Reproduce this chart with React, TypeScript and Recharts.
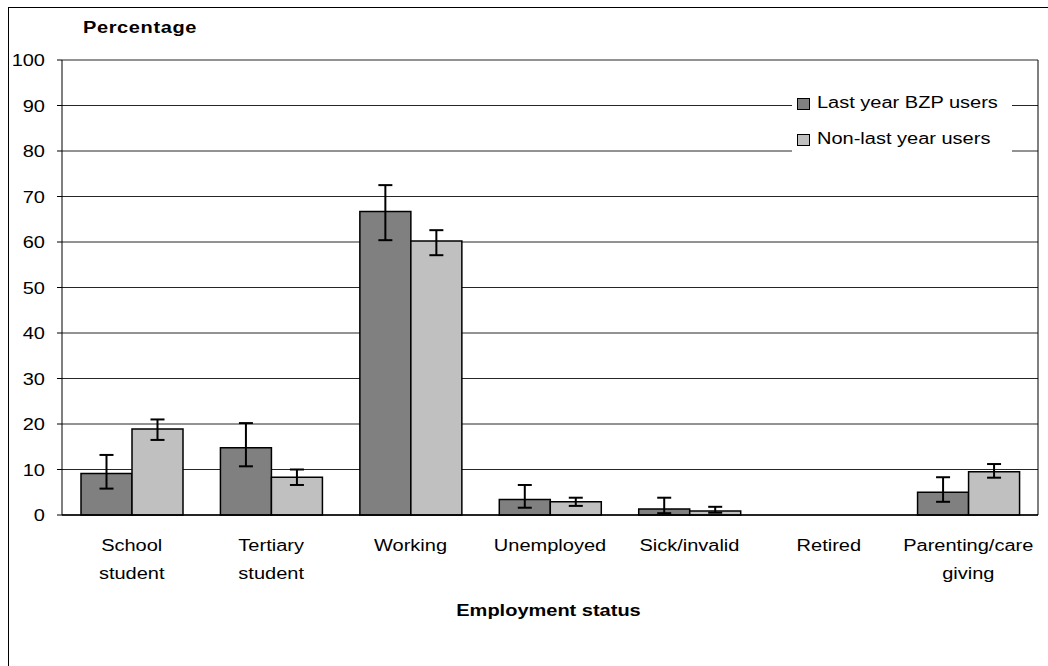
import { Bar, BarChart, CartesianGrid, ErrorBar, Legend, XAxis, YAxis } from 'recharts';

const categories = [
  'School student',
  'Tertiary student',
  'Working',
  'Unemployed',
  'Sick/invalid',
  'Retired',
  'Parenting/care giving',
];
const tickLines = [
  ['School', 'student'],
  ['Tertiary', 'student'],
  ['Working'],
  ['Unemployed'],
  ['Sick/invalid'],
  ['Retired'],
  ['Parenting/care', 'giving'],
];

// last year BZP users
const bzp = [9.1, 14.8, 66.7, 3.4, 1.3, 0, 5.0];
const bzpLow = [5.8, 10.7, 60.4, 1.6, 0.4, 0, 2.9];
const bzpHigh = [13.2, 20.2, 72.5, 6.6, 3.8, 0, 8.3];

// non-last year users
const non = [18.9, 8.3, 60.2, 2.9, 0.9, 0, 9.5];
const nonLow = [16.5, 6.6, 57.1, 2.0, 0.5, 0, 8.2];
const nonHigh = [21.0, 10.0, 62.6, 3.8, 1.8, 0, 11.2];

const yTicks = [0, 10, 20, 30, 40, 50, 60, 70, 80, 90, 100];

const seriesNames = ['Last year BZP users', 'Non-last year users'];
const DARK = '#808080';
const LIGHT = '#c0c0c0';
const FONT = '"Liberation Sans", Arial, sans-serif';
const SX = 1.25; // text in the original is stretched sideways

const data = categories.map((name, i) => ({
  name,
  bzp: bzp[i],
  bzpErr: [bzp[i] - bzpLow[i], bzpHigh[i] - bzp[i]],
  non: non[i],
  nonErr: [non[i] - nonLow[i], nonHigh[i] - non[i]],
}));

const XTick = (props: any) => {
  const { x, y, payload } = props;
  const idx = payload.index ?? categories.indexOf(payload.value);
  const lines = tickLines[idx] || [payload.value];
  return (
    <g>
      {lines.map((l, i) => (
        <text
          key={l}
          transform={`translate(${x},${y + 36 + i * 28}) scale(${SX},1)`}
          textAnchor="middle"
          fontSize={16}
          fontFamily={FONT}
          fill="#000"
        >
          {l}
        </text>
      ))}
    </g>
  );
};

const YTick = (props: any) => {
  const { x, y, payload } = props;
  return (
    <text
      transform={`translate(${x},${y + 6}) scale(${SX},1)`}
      textAnchor="end"
      fontSize={16}
      fontFamily={FONT}
      fill="#000"
    >
      {payload.value}
    </text>
  );
};

const LegendBox = () => (
  <div style={{ background: '#fff', width: 220, height: 72, fontFamily: FONT }}>
    {seriesNames.map((n, i) => (
      <div key={n} style={{ position: 'relative', height: 36 }}>
        <div
          style={{
            position: 'absolute',
            left: 5,
            top: 12,
            width: 11,
            height: 10,
            background: i === 0 ? DARK : LIGHT,
            border: '1px solid #000',
          }}
        />
        <span
          style={{
            position: 'absolute',
            left: 25,
            top: 8,
            fontSize: 16,
            lineHeight: '18px',
            whiteSpace: 'nowrap',
            transform: `scaleX(${SX})`,
            transformOrigin: 'left center',
            color: '#000',
          }}
        >
          {n}
        </span>
      </div>
    ))}
  </div>
);

export default function App() {
  return (
    <div
      style={{
        position: 'fixed',
        left: 8,
        top: 7,
        width: 1039,
        height: 658,
        borderTop: '1px solid #000',
        borderLeft: '1px solid #000',
        background: '#fff',
      }}
    >
      <BarChart
        width={1039}
        height={658}
        data={data}
        margin={{ top: 52, right: 0, bottom: 0, left: 0 }}
        barGap={0}
      >
        <CartesianGrid vertical={false} stroke="#000" strokeOpacity={0.85} />
        <XAxis
          dataKey="name"
          height={151}
          tickLine={false}
          tickSize={0}
          tickMargin={0}
          axisLine={{ stroke: '#000', strokeWidth: 1.5 }}
          tick={<XTick />}
          interval={0}
        />
        <YAxis
          width={53}
          domain={[0, 100]}
          ticks={yTicks}
          interval={0}
          tickSize={5}
          tickMargin={12}
          tickLine={{ stroke: '#000' }}
          axisLine={{ stroke: '#000' }}
          tick={<YTick />}
        />
        <YAxis
          yAxisId="r"
          orientation="right"
          width={10}
          domain={[0, 100]}
          tick={false}
          tickLine={false}
          axisLine={{ stroke: '#000' }}
        />
        <Legend
          layout="horizontal"
          verticalAlign="middle"
          content={<LegendBox />}
          wrapperStyle={{ left: 783, top: 78, width: 220, height: 72 }}
        />
        <Bar dataKey="bzp" name={seriesNames[0]} fill={DARK} stroke="#000" strokeWidth={1.5} barSize={51} isAnimationActive={false}>
          <ErrorBar dataKey="bzpErr" width={7} stroke="#000" strokeWidth={2} isAnimationActive={false} />
        </Bar>
        <Bar dataKey="non" name={seriesNames[1]} fill={LIGHT} stroke="#000" strokeWidth={1.5} barSize={51} isAnimationActive={false}>
          <ErrorBar dataKey="nonErr" width={7} stroke="#000" strokeWidth={2} isAnimationActive={false} />
        </Bar>
      </BarChart>
      <svg
        width={1039}
        height={658}
        style={{ position: 'absolute', left: 0, top: 0, pointerEvents: 'none' }}
      >
        <text
          transform={`translate(74,25) scale(${SX},1)`}
          fontSize={16}
          fontWeight="bold"
          letterSpacing={0.5}
          fontFamily={FONT}
          fill="#000"
        >
          Percentage
        </text>
        <text
          transform={`translate(539.5,608) scale(${SX},1)`}
          textAnchor="middle"
          fontSize={16}
          fontWeight="bold"
          fontFamily={FONT}
          fill="#000"
        >
          Employment status
        </text>
      </svg>
    </div>
  );
}
